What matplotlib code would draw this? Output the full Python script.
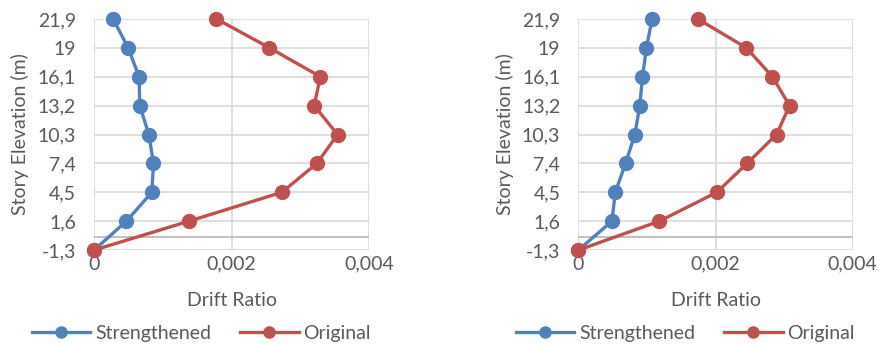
import matplotlib
matplotlib.use("Agg")
import matplotlib.pyplot as plt
from matplotlib.ticker import FuncFormatter

plt.rcParams['font.family'] = ['Lato', 'DejaVu Sans']

levels = ['-1,3', '1,6', '4,5', '7,4', '10,3', '13,2', '16,1', '19', '21,9']

# drift ratios, bottom storey first
left_strengthened = [0, 0.00047, 0.00084, 0.000864, 0.000796, 0.000665, 0.000655, 0.000495, 0.000277]
left_original = [0, 0.00138, 0.00273, 0.00324, 0.00354, 0.0032, 0.00329, 0.00255, 0.00178]
right_strengthened = [0, 0.000489, 0.000538, 0.000688, 0.000823, 0.000896, 0.000935, 0.000993, 0.001075]
right_original = [0, 0.00118, 0.00202, 0.00246, 0.00289, 0.00308, 0.00283, 0.00245, 0.00174]

x_ticks = [0, 0.002, 0.004]
BLUE = '#4F81BD'
RED = '#C0504D'
TXT = '#595959'
GRID = '#D9D9D9'
FS = 14

fig = plt.figure(figsize=(8.79, 3.44), dpi=100)


def draw(ax, strengthened, original):
    y = list(range(len(levels)))
    ax.plot(strengthened, y, color=BLUE, lw=2.4, marker='o', ms=10, label='Strengthened',
            clip_on=False, zorder=3)
    ax.plot(original, y, color=RED, lw=2.4, marker='o', ms=10, label='Original',
            clip_on=False, zorder=4)
    ax.set_xlim(0, 0.004)
    ax.set_ylim(0, len(levels) - 1)
    ax.set_xticks(x_ticks)
    ax.xaxis.set_major_formatter(FuncFormatter(lambda v, p: '0' if v == 0 else f'{v:.3f}'.replace('.', ',')))
    ax.set_yticks(y)
    ax.set_yticklabels(levels)
    for s in ax.spines.values():
        s.set_visible(False)
    ax.grid(True, color=GRID, lw=1.2)
    ax.set_axisbelow(True)
    # horizontal axis line sits a little above the lowest level
    ax.axhline(0.46, color='#BFBFBF', lw=1.4, zorder=1)
    ax.tick_params(length=0, labelsize=FS, labelcolor=TXT)
    ax.tick_params(axis='y', pad=13)
    ax.tick_params(axis='x', pad=4)
    ax.set_xlabel('Drift Ratio', fontsize=FS, color=TXT, labelpad=14)
    ax.set_ylabel('Story Elevation (m)', fontsize=FS, color=TXT, labelpad=6)
    leg = ax.legend(loc='center', bbox_to_anchor=(0.39, -0.36), ncol=2, frameon=False,
                    fontsize=FS, handlelength=3.0, handletextpad=0.25, columnspacing=1.5,
                    markerscale=0.8, borderpad=0)
    for t in leg.get_texts():
        t.set_color(TXT)


ax1 = fig.add_axes([0.107, 0.273, 0.313, 0.672])
draw(ax1, left_strengthened, left_original)
ax2 = fig.add_axes([0.658, 0.273, 0.312, 0.672])
draw(ax2, right_strengthened, right_original)

fig.savefig('out.png', dpi=100)
